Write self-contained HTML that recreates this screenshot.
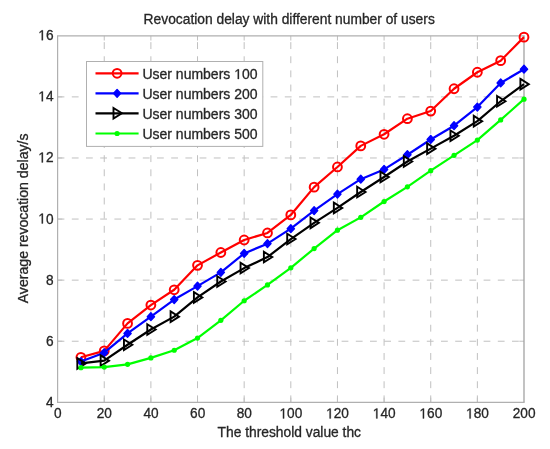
<!DOCTYPE html><html><head><meta charset="utf-8"><style>html,body{margin:0;padding:0;background:#fff;overflow:hidden;width:550px;height:449px;}svg{display:block;will-change:transform;}.h1{fill-opacity:0;stroke-opacity:0;}text{font-family:"Liberation Sans",sans-serif;fill:#262626;stroke:#262626;stroke-width:0.3px;}</style></head><body>
<svg width="550" height="449" viewBox="0 0 550 449">
<rect width="550" height="449" fill="#fff"/>
<g stroke="#c0c0c0" stroke-width="1" stroke-dasharray="6.8 7.4" fill="none"><line x1="104.24" y1="402.30" x2="104.24" y2="35.80" stroke-dasharray="6.9 7.23"/><line x1="150.88" y1="402.30" x2="150.88" y2="35.80" stroke-dasharray="6.9 7.23"/><line x1="197.52" y1="402.30" x2="197.52" y2="35.80" stroke-dasharray="6.9 7.23"/><line x1="244.16" y1="402.30" x2="244.16" y2="35.80" stroke-dasharray="6.9 7.23"/><line x1="290.80" y1="402.30" x2="290.80" y2="35.80" stroke-dasharray="6.9 7.23"/><line x1="337.44" y1="402.30" x2="337.44" y2="35.80" stroke-dasharray="6.9 7.23"/><line x1="384.08" y1="402.30" x2="384.08" y2="35.80" stroke-dasharray="6.9 7.23"/><line x1="430.72" y1="402.30" x2="430.72" y2="35.80" stroke-dasharray="6.9 7.23"/><line x1="477.36" y1="402.30" x2="477.36" y2="35.80" stroke-dasharray="6.9 7.23"/><line x1="57.60" y1="341.22" x2="524.00" y2="341.22"/><line x1="57.60" y1="280.13" x2="524.00" y2="280.13"/><line x1="57.60" y1="219.05" x2="524.00" y2="219.05"/><line x1="57.60" y1="157.97" x2="524.00" y2="157.97"/><line x1="57.60" y1="96.88" x2="524.00" y2="96.88"/></g>
<path d="M104.24 402.30V397.60M104.24 35.80V40.50M150.88 402.30V397.60M150.88 35.80V40.50M197.52 402.30V397.60M197.52 35.80V40.50M244.16 402.30V397.60M244.16 35.80V40.50M290.80 402.30V397.60M290.80 35.80V40.50M337.44 402.30V397.60M337.44 35.80V40.50M384.08 402.30V397.60M384.08 35.80V40.50M430.72 402.30V397.60M430.72 35.80V40.50M477.36 402.30V397.60M477.36 35.80V40.50M57.60 341.22H62.30M524.00 341.22H519.30M57.60 280.13H62.30M524.00 280.13H519.30M57.60 219.05H62.30M524.00 219.05H519.30M57.60 157.97H62.30M524.00 157.97H519.30M57.60 96.88H62.30M524.00 96.88H519.30" stroke="#c0c0c0" stroke-width="1" fill="none"/>
<path d="M57.60 35.80H524.00M57.60 402.30H524.00M57.60 35.80V402.30" fill="none" stroke="#b0b0b0" stroke-width="1.2" stroke-linecap="square"/>
<path d="M524.00 35.80V402.30" fill="none" stroke="#a2a2a2" stroke-width="1.3"/>
<polyline points="80.92,357.29 104.24,350.88 127.56,323.38 150.88,305.05 174.20,289.78 197.52,265.34 220.84,252.50 244.16,239.98 267.48,232.95 290.80,214.93 314.12,187.13 337.44,166.97 360.76,145.89 384.08,134.28 407.40,118.70 430.72,111.06 454.04,88.76 477.36,72.26 500.68,60.65 524.00,37.13" fill="none" stroke="#ff0000" stroke-width="2.2" stroke-linejoin="round"/>
<g stroke="#ff0000" stroke-width="2" fill="none"><circle cx="80.92" cy="357.29" r="4.4"/><circle cx="104.24" cy="350.88" r="4.4"/><circle cx="127.56" cy="323.38" r="4.4"/><circle cx="150.88" cy="305.05" r="4.4"/><circle cx="174.20" cy="289.78" r="4.4"/><circle cx="197.52" cy="265.34" r="4.4"/><circle cx="220.84" cy="252.50" r="4.4"/><circle cx="244.16" cy="239.98" r="4.4"/><circle cx="267.48" cy="232.95" r="4.4"/><circle cx="290.80" cy="214.93" r="4.4"/><circle cx="314.12" cy="187.13" r="4.4"/><circle cx="337.44" cy="166.97" r="4.4"/><circle cx="360.76" cy="145.89" r="4.4"/><circle cx="384.08" cy="134.28" r="4.4"/><circle cx="407.40" cy="118.70" r="4.4"/><circle cx="430.72" cy="111.06" r="4.4"/><circle cx="454.04" cy="88.76" r="4.4"/><circle cx="477.36" cy="72.26" r="4.4"/><circle cx="500.68" cy="60.65" r="4.4"/><circle cx="524.00" cy="37.13" r="4.4"/></g>
<polyline points="80.92,361.57 104.24,352.71 127.56,333.46 150.88,316.66 174.20,299.55 197.52,286.11 220.84,272.36 244.16,253.42 267.48,243.65 290.80,228.68 314.12,210.65 337.44,194.15 360.76,179.18 384.08,169.41 407.40,154.75 430.72,139.47 454.04,125.72 477.36,107.09 500.68,82.95 524.00,69.20" fill="none" stroke="#0000ff" stroke-width="2.2" stroke-linejoin="round"/>
<g fill="#0000ff" stroke="#0000ff" stroke-width="1.4" stroke-linejoin="round"><path d="M80.92 357.67L84.52 361.57L80.92 365.47L77.32 361.57Z"/><path d="M104.24 348.81L107.84 352.71L104.24 356.61L100.64 352.71Z"/><path d="M127.56 329.56L131.16 333.46L127.56 337.36L123.96 333.46Z"/><path d="M150.88 312.76L154.48 316.66L150.88 320.56L147.28 316.66Z"/><path d="M174.20 295.65L177.80 299.55L174.20 303.45L170.60 299.55Z"/><path d="M197.52 282.21L201.12 286.11L197.52 290.01L193.92 286.11Z"/><path d="M220.84 268.46L224.44 272.36L220.84 276.26L217.24 272.36Z"/><path d="M244.16 249.52L247.76 253.42L244.16 257.32L240.56 253.42Z"/><path d="M267.48 239.75L271.08 243.65L267.48 247.55L263.88 243.65Z"/><path d="M290.80 224.78L294.40 228.68L290.80 232.58L287.20 228.68Z"/><path d="M314.12 206.75L317.72 210.65L314.12 214.55L310.52 210.65Z"/><path d="M337.44 190.25L341.04 194.15L337.44 198.05L333.84 194.15Z"/><path d="M360.76 175.28L364.36 179.18L360.76 183.08L357.16 179.18Z"/><path d="M384.08 165.51L387.68 169.41L384.08 173.31L380.48 169.41Z"/><path d="M407.40 150.84L411.00 154.75L407.40 158.65L403.80 154.75Z"/><path d="M430.72 135.57L434.32 139.47L430.72 143.37L427.12 139.47Z"/><path d="M454.04 121.82L457.64 125.72L454.04 129.62L450.44 125.72Z"/><path d="M477.36 103.19L480.96 107.09L477.36 110.99L473.76 107.09Z"/><path d="M500.68 79.05L504.28 82.95L500.68 86.85L497.08 82.95Z"/><path d="M524.00 65.30L527.60 69.20L524.00 73.10L520.40 69.20Z"/></g>
<polyline points="80.92,363.40 104.24,360.65 127.56,344.77 150.88,329.49 174.20,316.66 197.52,297.41 220.84,281.53 244.16,268.09 267.48,257.09 290.80,239.06 314.12,222.87 337.44,207.90 360.76,192.02 384.08,177.05 407.40,161.47 430.72,148.63 454.04,135.80 477.36,121.14 500.68,101.28 524.00,84.17" fill="none" stroke="#000000" stroke-width="2.2" stroke-linejoin="round"/>
<g stroke="#000" stroke-width="1.9" fill="none" stroke-linejoin="miter"><path d="M77.32 358.10L85.72 363.40L77.32 368.70Z"/><path d="M100.64 355.35L109.04 360.65L100.64 365.95Z"/><path d="M123.96 339.47L132.36 344.77L123.96 350.07Z"/><path d="M147.28 324.19L155.68 329.49L147.28 334.79Z"/><path d="M170.60 311.36L179.00 316.66L170.60 321.96Z"/><path d="M193.92 292.11L202.32 297.41L193.92 302.71Z"/><path d="M217.24 276.23L225.64 281.53L217.24 286.83Z"/><path d="M240.56 262.79L248.96 268.09L240.56 273.39Z"/><path d="M263.88 251.79L272.28 257.09L263.88 262.39Z"/><path d="M287.20 233.76L295.60 239.06L287.20 244.36Z"/><path d="M310.52 217.57L318.92 222.87L310.52 228.17Z"/><path d="M333.84 202.60L342.24 207.90L333.84 213.20Z"/><path d="M357.16 186.72L365.56 192.02L357.16 197.32Z"/><path d="M380.48 171.75L388.88 177.05L380.48 182.35Z"/><path d="M403.80 156.17L412.20 161.47L403.80 166.77Z"/><path d="M427.12 143.33L435.52 148.63L427.12 153.94Z"/><path d="M450.44 130.50L458.84 135.80L450.44 141.10Z"/><path d="M473.76 115.84L482.16 121.14L473.76 126.44Z"/><path d="M497.08 95.98L505.48 101.28L497.08 106.58Z"/><path d="M520.40 78.87L528.80 84.17L520.40 89.47Z"/></g>
<polyline points="80.92,367.68 104.24,367.07 127.56,364.32 150.88,357.90 174.20,350.27 197.52,338.05 220.84,320.33 244.16,300.77 267.48,284.89 290.80,267.78 314.12,248.53 337.44,230.20 360.76,217.37 384.08,201.49 407.40,186.82 430.72,170.63 454.04,155.36 477.36,140.08 500.68,119.92 524.00,99.14" fill="none" stroke="#00ff00" stroke-width="2.2" stroke-linejoin="round"/>
<g fill="#00ff00" stroke="none"><circle cx="80.92" cy="367.68" r="2.6"/><circle cx="104.24" cy="367.07" r="2.6"/><circle cx="127.56" cy="364.32" r="2.6"/><circle cx="150.88" cy="357.90" r="2.6"/><circle cx="174.20" cy="350.27" r="2.6"/><circle cx="197.52" cy="338.05" r="2.6"/><circle cx="220.84" cy="320.33" r="2.6"/><circle cx="244.16" cy="300.77" r="2.6"/><circle cx="267.48" cy="284.89" r="2.6"/><circle cx="290.80" cy="267.78" r="2.6"/><circle cx="314.12" cy="248.53" r="2.6"/><circle cx="337.44" cy="230.20" r="2.6"/><circle cx="360.76" cy="217.37" r="2.6"/><circle cx="384.08" cy="201.49" r="2.6"/><circle cx="407.40" cy="186.82" r="2.6"/><circle cx="430.72" cy="170.63" r="2.6"/><circle cx="454.04" cy="155.36" r="2.6"/><circle cx="477.36" cy="140.08" r="2.6"/><circle cx="500.68" cy="119.92" r="2.6"/><circle cx="524.00" cy="99.14" r="2.6"/></g>
<rect x="86.50" y="61.50" width="176.30" height="84.90" fill="#fff" stroke="#b0b0b0" stroke-width="1"/>
<line x1="95.5" y1="73.30" x2="138.6" y2="73.30" stroke="#ff0000" stroke-width="2.2"/>
<g stroke="#ff0000" stroke-width="2" fill="none"><circle cx="117.10" cy="73.30" r="4.4"/></g>
<text x="142.4" y="79.00" font-size="14.0">User numbers <tspan class="h1">1</tspan>00</text>
<line x1="95.5" y1="93.40" x2="138.6" y2="93.40" stroke="#0000ff" stroke-width="2.2"/>
<g fill="#0000ff" stroke="#0000ff" stroke-width="1.4" stroke-linejoin="round"><path d="M117.10 89.50L120.70 93.40L117.10 97.30L113.50 93.40Z"/></g>
<text x="142.4" y="99.10" font-size="14.0">User numbers 200</text>
<line x1="95.5" y1="113.30" x2="138.6" y2="113.30" stroke="#000000" stroke-width="2.2"/>
<g stroke="#000" stroke-width="1.9" fill="none" stroke-linejoin="miter"><path d="M113.50 108.00L121.90 113.30L113.50 118.60Z"/></g>
<text x="142.4" y="119.00" font-size="14.0">User numbers 300</text>
<line x1="95.5" y1="133.50" x2="138.6" y2="133.50" stroke="#00ff00" stroke-width="2.2"/>
<g fill="#00ff00" stroke="none"><circle cx="117.10" cy="133.50" r="2.6"/></g>
<text x="142.4" y="139.20" font-size="14.0">User numbers 500</text>
<text x="0" y="0" transform="translate(57.70 418.4) scale(0.950 1)" font-size="14.4" text-anchor="middle">0</text>
<text x="0" y="0" transform="translate(104.34 418.4) scale(0.950 1)" font-size="14.4" text-anchor="middle">20</text>
<text x="0" y="0" transform="translate(150.98 418.4) scale(0.950 1)" font-size="14.4" text-anchor="middle">40</text>
<text x="0" y="0" transform="translate(197.62 418.4) scale(0.950 1)" font-size="14.4" text-anchor="middle">60</text>
<text x="0" y="0" transform="translate(244.26 418.4) scale(0.950 1)" font-size="14.4" text-anchor="middle">80</text>
<text x="0" y="0" transform="translate(290.90 418.4) scale(0.950 1)" font-size="14.4" text-anchor="middle"><tspan class="h1">1</tspan>00</text>
<text x="0" y="0" transform="translate(337.54 418.4) scale(0.950 1)" font-size="14.4" text-anchor="middle"><tspan class="h1">1</tspan>20</text>
<text x="0" y="0" transform="translate(384.18 418.4) scale(0.950 1)" font-size="14.4" text-anchor="middle"><tspan class="h1">1</tspan>40</text>
<text x="0" y="0" transform="translate(430.82 418.4) scale(0.950 1)" font-size="14.4" text-anchor="middle"><tspan class="h1">1</tspan>60</text>
<text x="0" y="0" transform="translate(477.46 418.4) scale(0.950 1)" font-size="14.4" text-anchor="middle"><tspan class="h1">1</tspan>80</text>
<text x="0" y="0" transform="translate(524.10 418.4) scale(0.950 1)" font-size="14.4" text-anchor="middle">200</text>
<text x="0" y="0" transform="translate(53.5 406.75) scale(0.950 1)" font-size="14.4" text-anchor="end">4</text>
<text x="0" y="0" transform="translate(53.5 345.67) scale(0.950 1)" font-size="14.4" text-anchor="end">6</text>
<text x="0" y="0" transform="translate(53.5 284.58) scale(0.950 1)" font-size="14.4" text-anchor="end">8</text>
<text x="0" y="0" transform="translate(53.5 223.50) scale(0.950 1)" font-size="14.4" text-anchor="end"><tspan class="h1">1</tspan>0</text>
<text x="0" y="0" transform="translate(53.5 162.42) scale(0.950 1)" font-size="14.4" text-anchor="end"><tspan class="h1">1</tspan>2</text>
<text x="0" y="0" transform="translate(53.5 101.33) scale(0.950 1)" font-size="14.4" text-anchor="end"><tspan class="h1">1</tspan>4</text>
<text x="0" y="0" transform="translate(53.5 40.25) scale(0.950 1)" font-size="14.4" text-anchor="end"><tspan class="h1">1</tspan>6</text>
<text x="289.2" y="23.5" font-size="13.8" text-anchor="middle">Revocation delay with different number of users</text>
<text x="289.3" y="436.8" font-size="13.8" text-anchor="middle">The threshold value thc</text>
<text transform="translate(27.8,218.4) rotate(-90)" font-size="14.1" text-anchor="middle">Average revocation delay/s</text>
<g fill="#262626" stroke="#262626"><path transform="translate(234.212 79.000) scale(0.006836 -0.006836)" stroke-width="43.9" d="M515 0L515 1237L197 1010L197 1180L530 1409L696 1409L696 0Z"/><g transform="translate(290.90 418.4) scale(0.950 1)"><path transform="translate(-12.007 0.000) scale(0.007031 -0.007031)" stroke-width="42.7" d="M515 0L515 1237L197 1010L197 1180L530 1409L696 1409L696 0Z"/></g><g transform="translate(337.54 418.4) scale(0.950 1)"><path transform="translate(-12.007 0.000) scale(0.007031 -0.007031)" stroke-width="42.7" d="M515 0L515 1237L197 1010L197 1180L530 1409L696 1409L696 0Z"/></g><g transform="translate(384.18 418.4) scale(0.950 1)"><path transform="translate(-12.007 0.000) scale(0.007031 -0.007031)" stroke-width="42.7" d="M515 0L515 1237L197 1010L197 1180L530 1409L696 1409L696 0Z"/></g><g transform="translate(430.82 418.4) scale(0.950 1)"><path transform="translate(-12.007 0.000) scale(0.007031 -0.007031)" stroke-width="42.7" d="M515 0L515 1237L197 1010L197 1180L530 1409L696 1409L696 0Z"/></g><g transform="translate(477.46 418.4) scale(0.950 1)"><path transform="translate(-12.007 0.000) scale(0.007031 -0.007031)" stroke-width="42.7" d="M515 0L515 1237L197 1010L197 1180L530 1409L696 1409L696 0Z"/></g><g transform="translate(53.5 223.50) scale(0.950 1)"><path transform="translate(-16.020 0.000) scale(0.007031 -0.007031)" stroke-width="42.7" d="M515 0L515 1237L197 1010L197 1180L530 1409L696 1409L696 0Z"/></g><g transform="translate(53.5 162.42) scale(0.950 1)"><path transform="translate(-16.020 0.000) scale(0.007031 -0.007031)" stroke-width="42.7" d="M515 0L515 1237L197 1010L197 1180L530 1409L696 1409L696 0Z"/></g><g transform="translate(53.5 101.33) scale(0.950 1)"><path transform="translate(-16.020 0.000) scale(0.007031 -0.007031)" stroke-width="42.7" d="M515 0L515 1237L197 1010L197 1180L530 1409L696 1409L696 0Z"/></g><g transform="translate(53.5 40.25) scale(0.950 1)"><path transform="translate(-16.020 0.000) scale(0.007031 -0.007031)" stroke-width="42.7" d="M515 0L515 1237L197 1010L197 1180L530 1409L696 1409L696 0Z"/></g></g></svg></body></html>
